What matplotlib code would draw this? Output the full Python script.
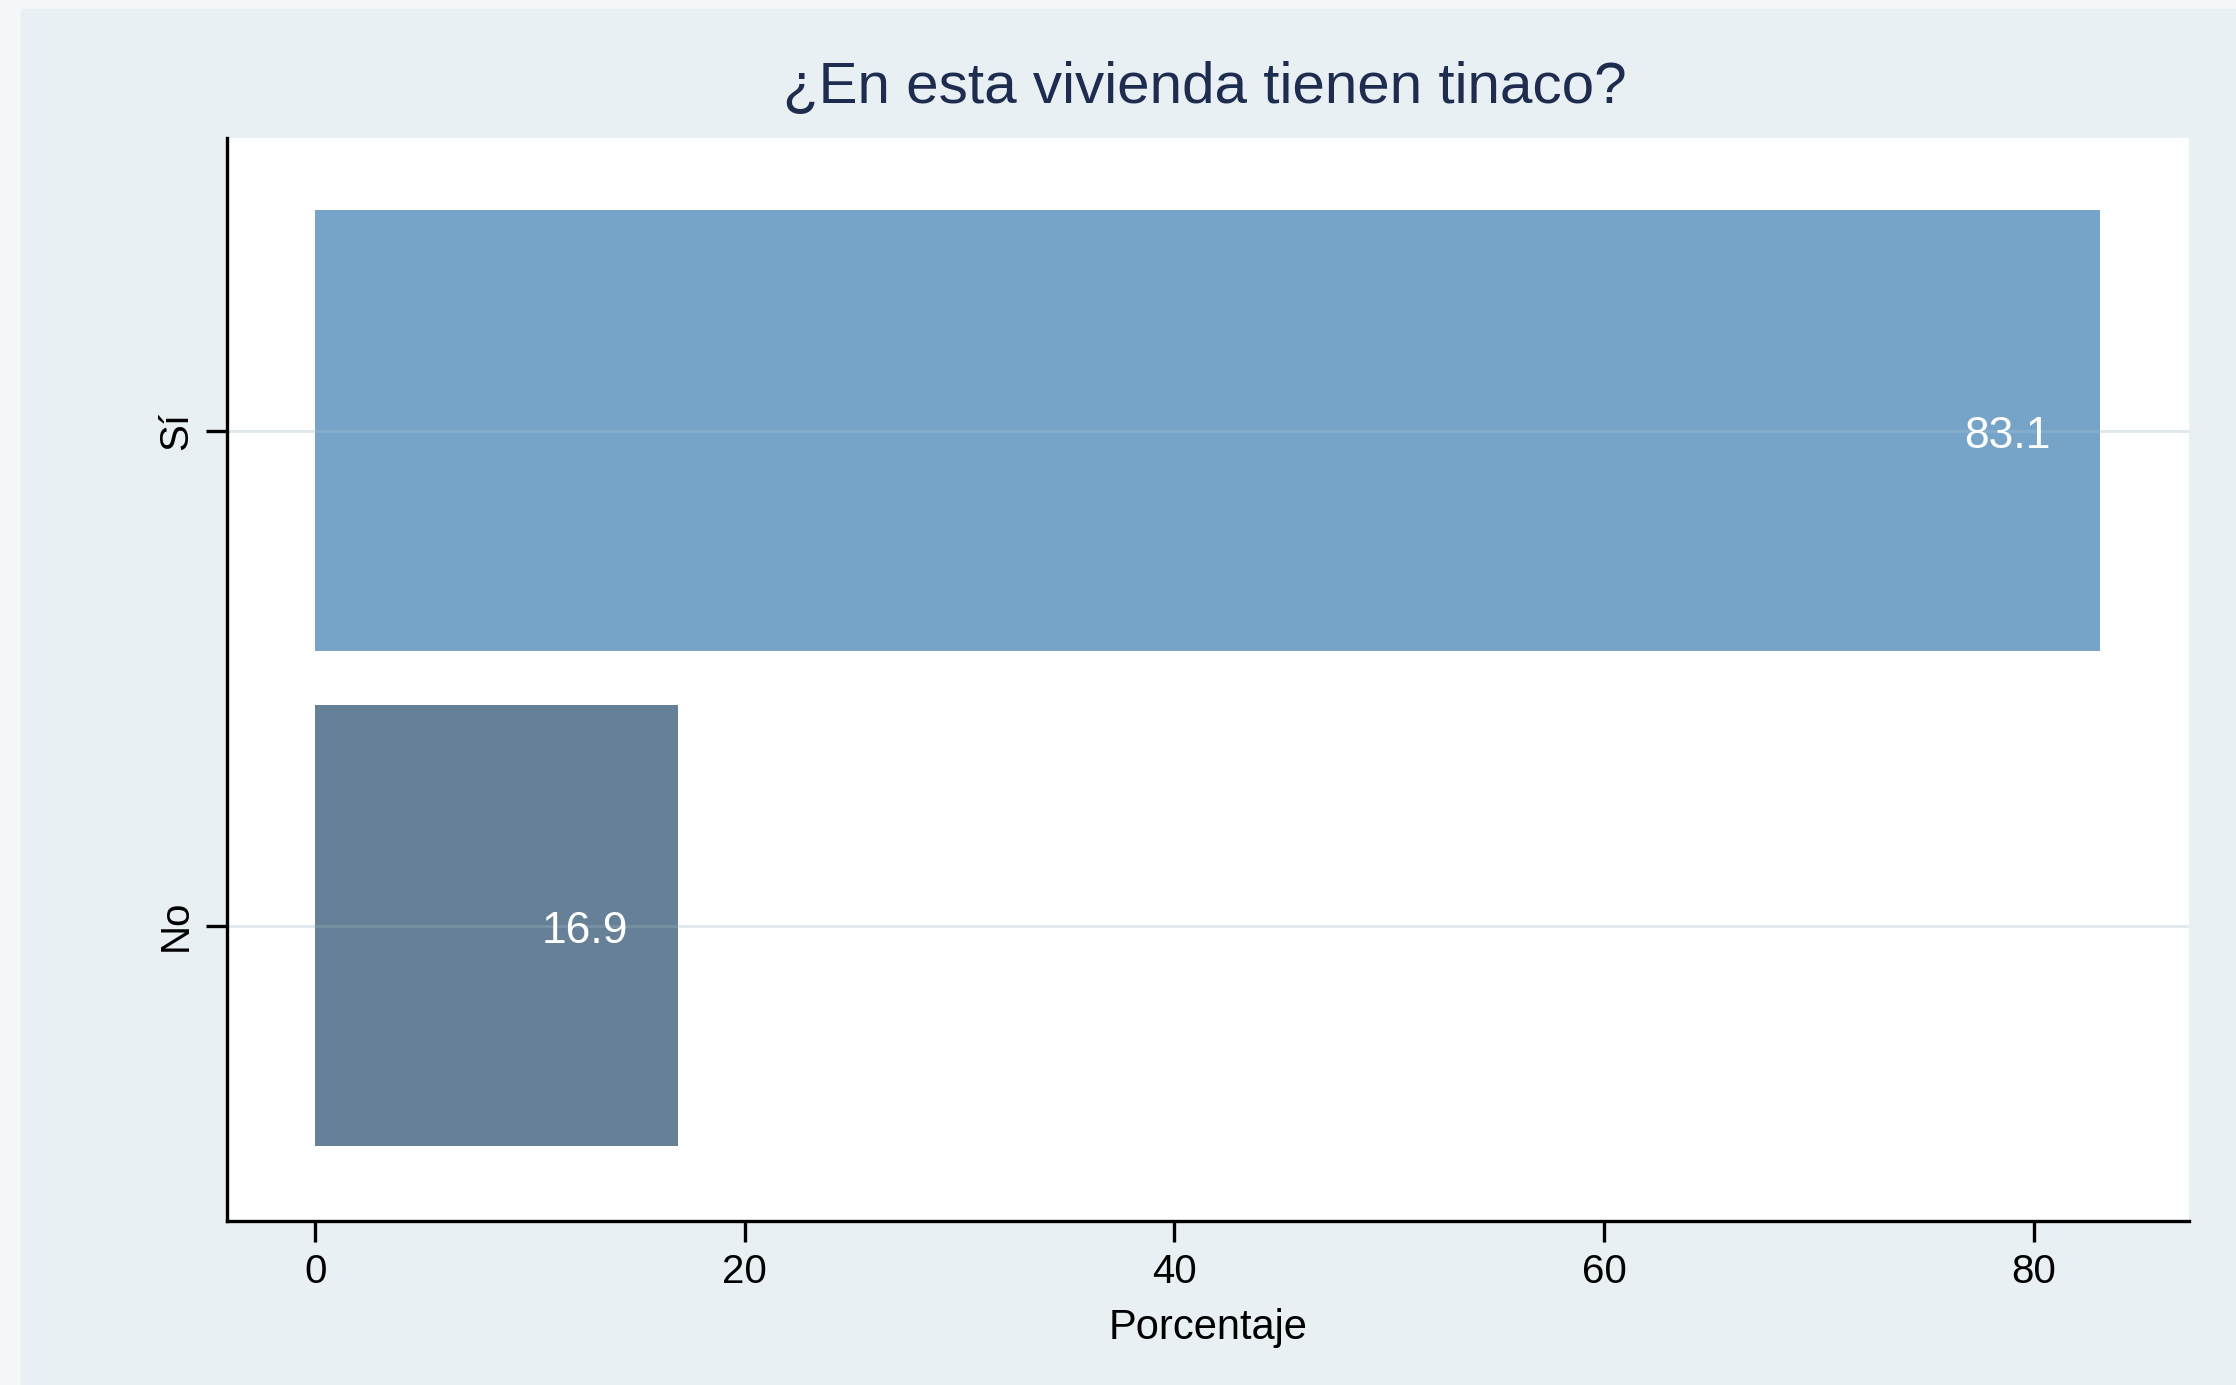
import matplotlib
matplotlib.use("Agg")
import matplotlib.pyplot as plt
from matplotlib.patches import Rectangle

# data
categorias = ["No", "Sí"]
porcentajes = [16.9, 83.1]
colores = ["#668197", "#76a4c8"]
xticks = [0, 20, 40, 60, 80]

plt.rcParams["font.family"] = ["Liberation Sans", "DejaVu Sans"]

W, H = 2236, 1385
fig = plt.figure(figsize=(W / 100, H / 100), dpi=100, facecolor="#f4f8f9")
# inner panel background
fondo = Rectangle((21 / W, 0), 1 - 21 / W, (H - 9) / H,
                  transform=fig.transFigure, color="#e8f0f3", zorder=-10)
fig.add_artist(fondo)

ax = fig.add_axes([226.7 / W, (H - 1221) / H, (2189 - 226.7) / W, (1221 - 138) / H])
ax.set_zorder(1)
ax.set_facecolor("white")

ypos = list(range(len(categorias)))
bars = ax.barh(ypos, porcentajes, height=0.89, color=colores, zorder=2)

# light grid lines; faint where they cross the bars
ax.grid(axis="y", color="#e4edf0", linewidth=2)
ax.set_axisbelow(True)
for y in ypos:
    ax.axhline(y, color="#c9dbe0", alpha=0.18, linewidth=2, zorder=2.5)

for b, v in zip(bars, porcentajes):
    ax.annotate(f"{v:.1f}", xy=(b.get_width(), b.get_y() + b.get_height() / 2),
                xytext=(-36, -4), textcoords="offset points",
                ha="right", va="center", color="white", fontsize=32, zorder=3)

ax.set_xlim(-4.12, 87.23)
ax.set_ylim(-0.597, 1.591)
ax.set_xticks(xticks)
ax.set_yticks(ypos)
ax.set_yticklabels(categorias, rotation=90, va="center")

for s in ["top", "right"]:
    ax.spines[s].set_visible(False)
for s in ["left", "bottom"]:
    ax.spines[s].set_linewidth(2.4)
    ax.spines[s].set_color("black")
ax.tick_params(length=15, width=2.4, labelsize=29, pad=8, colors="black")

ax.set_xlabel("Porcentaje", fontsize=30, labelpad=12)
fig.text(1205 / W, 1 - 88 / H, "¿En esta vivienda tienen tinaco?",
         ha="center", va="center", fontsize=42, color="#1e2d4f")

fig.savefig("out.png", dpi=100, facecolor=fig.get_facecolor())
